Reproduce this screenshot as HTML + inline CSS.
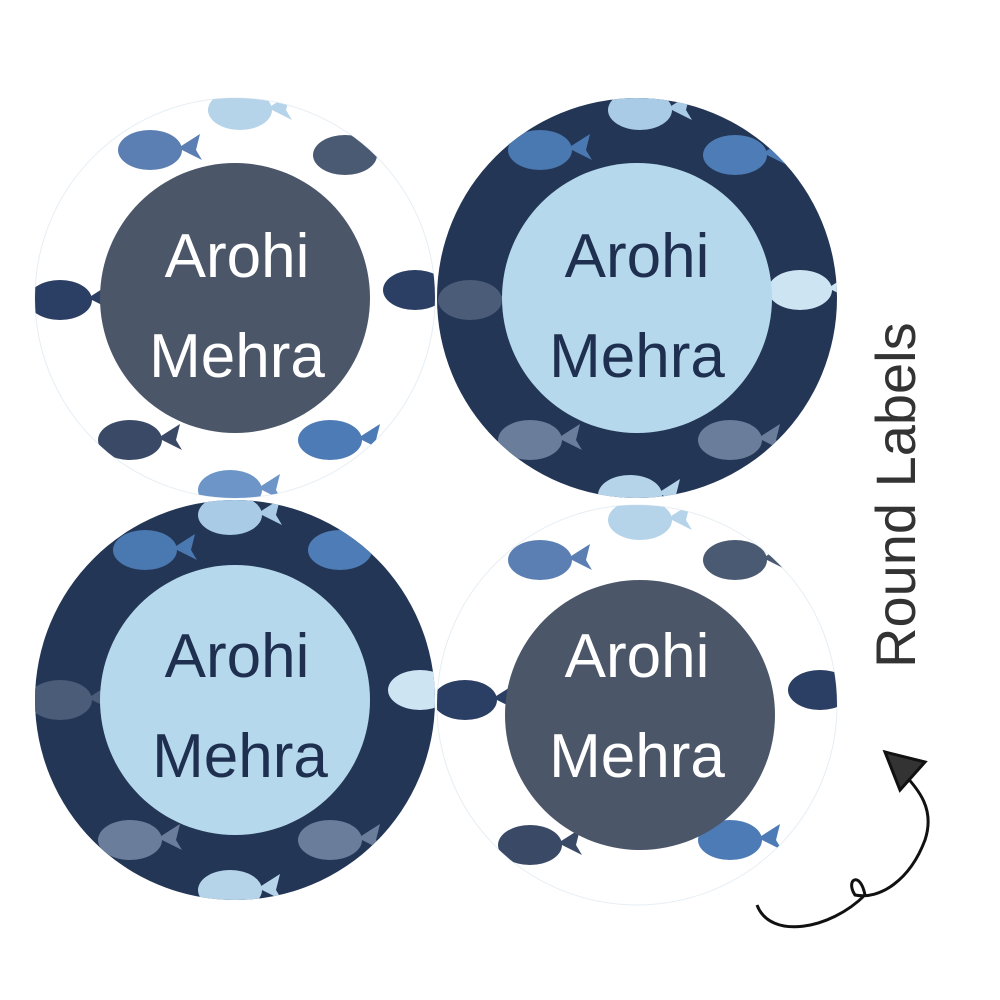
<!DOCTYPE html>
<html><head><meta charset="utf-8"><style>
html,body{margin:0;padding:0;background:#fff;width:1000px;height:1000px;overflow:hidden}
svg{display:block}
</style></head><body>
<svg width="1000" height="1000" viewBox="0 0 1000 1000" xmlns="http://www.w3.org/2000/svg">
<defs>
<g id="whale">
<ellipse cx="0" cy="0" rx="32" ry="20"/>
<path d="M28 -2 L50 -16 L46 0 L52 10 Z"/>
</g>
<clipPath id="c1"><circle cx="235" cy="298" r="200"/></clipPath>
<clipPath id="c2"><circle cx="637" cy="298" r="200"/></clipPath>
<clipPath id="c3"><circle cx="235" cy="700" r="200"/></clipPath>
<clipPath id="c4"><circle cx="637" cy="705" r="200"/></clipPath>
</defs>

<circle cx="235" cy="298" r="200" fill="#fff" stroke="#e6eef4" stroke-width="1"/>
<g clip-path="url(#c1)">
<use href="#whale" x="150" y="150" fill="#5b7fb3"/>
<use href="#whale" x="345" y="155" fill="#4a5a72"/>
<use href="#whale" x="240" y="110" fill="#b5d4ea"/>
<use href="#whale" x="60" y="300" fill="#2b3e63"/>
<use href="#whale" x="415" y="290" fill="#2b3e63"/>
<use href="#whale" x="130" y="440" fill="#3a4a66"/>
<use href="#whale" x="330" y="440" fill="#4d7bb5"/>
<use href="#whale" x="230" y="490" fill="#6d95c8"/>
</g>
<circle cx="235" cy="298" r="135" fill="#4b5668"/>
<circle cx="637" cy="298" r="200" fill="#233655"/>
<g clip-path="url(#c2)">
<use href="#whale" x="540" y="150" fill="#4a78b0"/>
<use href="#whale" x="735" y="155" fill="#4e7cb6"/>
<use href="#whale" x="640" y="110" fill="#a9cbe6"/>
<use href="#whale" x="470" y="300" fill="#4a5c78"/>
<use href="#whale" x="800" y="290" fill="#cde4f2"/>
<use href="#whale" x="530" y="440" fill="#6a7e9b"/>
<use href="#whale" x="730" y="440" fill="#6a7e9b"/>
<use href="#whale" x="630" y="495" fill="#b5d4ea"/>
</g>
<circle cx="637" cy="298" r="135" fill="#b6d8ec"/>
<circle cx="235" cy="700" r="200" fill="#233655"/>
<g clip-path="url(#c3)">
<use href="#whale" x="145" y="550" fill="#4a78b0"/>
<use href="#whale" x="340" y="550" fill="#4e7cb6"/>
<use href="#whale" x="230" y="515" fill="#a9cbe6"/>
<use href="#whale" x="60" y="700" fill="#4a5c78"/>
<use href="#whale" x="420" y="690" fill="#cde4f2"/>
<use href="#whale" x="130" y="840" fill="#6a7e9b"/>
<use href="#whale" x="330" y="840" fill="#6a7e9b"/>
<use href="#whale" x="230" y="890" fill="#b5d4ea"/>
</g>
<circle cx="235" cy="700" r="135" fill="#b6d8ec"/>
<circle cx="637" cy="705" r="200" fill="#fff" stroke="#e6eef4" stroke-width="1"/>
<g clip-path="url(#c4)">
<use href="#whale" x="540" y="560" fill="#5b7fb3"/>
<use href="#whale" x="735" y="560" fill="#4a5a72"/>
<use href="#whale" x="640" y="520" fill="#b5d4ea"/>
<use href="#whale" x="465" y="700" fill="#2b3e63"/>
<use href="#whale" x="820" y="690" fill="#2b3e63"/>
<use href="#whale" x="530" y="845" fill="#3a4a66"/>
<use href="#whale" x="730" y="840" fill="#4d7bb5"/>
</g>
<circle cx="640" cy="715" r="135" fill="#4b5668"/>

<g font-family="Liberation Sans, sans-serif" font-size="62" text-anchor="middle">
<text x="237" y="277" fill="#fff">Arohi</text>
<text x="237" y="377" fill="#fff">Mehra</text>
<text x="637" y="277" fill="#1e2f4f">Arohi</text>
<text x="637" y="377" fill="#1e2f4f">Mehra</text>
<text x="237" y="677" fill="#1e2f4f">Arohi</text>
<text x="240" y="777" fill="#1e2f4f">Mehra</text>
<text x="637" y="677" fill="#fff">Arohi</text>
<text x="637" y="777" fill="#fff">Mehra</text>
</g>

<text x="0" y="0" transform="translate(915,668) rotate(-90)" font-family="Liberation Sans, sans-serif" font-size="56" fill="#333">Round Labels</text>

<path d="M757 905 C770 940, 830 930, 865 895 C860 870, 845 880, 855 895 C880 900, 910 880, 925 840 C935 810, 920 790, 900 770" fill="none" stroke="#111" stroke-width="3"/>
<path d="M885 752 L925 762 L900 790 Z" fill="#333" stroke="#111" stroke-width="3"/>
</svg>
</body></html>
